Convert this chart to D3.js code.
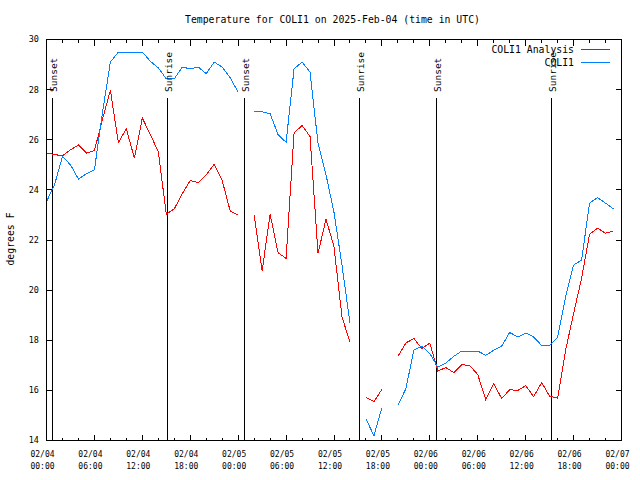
<!DOCTYPE html>
<html>
<head>
<meta charset="utf-8">
<script src="https://cdn.jsdelivr.net/npm/d3@7"></script>
<style>
  html, body { margin: 0; padding: 0; background: #fff; }
  svg { display: block; }
  text { font-family: "DejaVu Sans Mono", "Liberation Mono", monospace; fill: #000; }
</style>
</head>
<body>
<svg id="chart" width="640" height="480"></svg>
<script>
// ---- data (hours since 2025-02-04 00:00 UTC) ----
const hours = d3.range(0, 72);
const analysis = [
  25.47, 25.41, 25.36, 25.6, 25.79, 25.47, 25.57, 26.8, 27.97, 25.89, 26.43, 25.27,
  26.87, 26.2, 25.53, 23.03, 23.24, 23.85, 24.37, 24.29, 24.6, 25.03, 24.37, 23.16,
  22.99, null, 23.0, 20.76, 23.03, 21.49, 21.27, 26.27, 26.57, 26.13, 21.47, 22.83,
  21.73, 18.93, 17.93, null, 15.71, 15.55, 16.04, null, 17.36, 17.89, 18.07, 17.67,
  17.89, 16.77, 16.91, 16.71, 17.03, 16.99, 16.63, 15.63, 16.27, 15.67, 16.03, 15.99,
  16.19, 15.75, 16.31, 15.77, 15.69, 17.6, 19.07, 20.47, 22.23, 22.47, 22.27, 22.36
];
const observed = [
  23.53, 24.2, 25.33, 25.0, 24.43, 24.64, 24.8, 27.07, 29.1, 29.5, 29.5, 29.5,
  29.5, 29.13, 28.87, 28.43, 28.43, 28.9, 28.83, 28.9, 28.64, 29.1, 28.9, 28.47,
  27.9, null, 27.12, 27.12, 27.04, 26.2, 25.9, 28.83, 29.1, 28.7, 25.85, 24.6,
  23.1, 21.0, 18.69, null, 14.87, 14.19, 15.31, null, 15.4, 16.07, 17.6, 17.77,
  17.47, 16.93, 17.09, 17.36, 17.57, 17.57, 17.57, 17.4, 17.6, 17.77, 18.31, 18.13,
  18.29, 18.13, 17.79, 17.79, 18.11, 19.73, 21.0, 21.2, 23.47, 23.69, 23.47, 23.24
];
const seriesNames = ["COLI1 Analysis", "COLI1"];
const seriesColors = ["#ff0000", "#0080ff"];
const sunTimes = [0.75, 15.03, 24.79, 39.07, 48.71, 63.11];
const sunLabels = ["Sunset", "Sunrise", "Sunset", "Sunrise", "Sunset", "Sunrise"];
const xTickHours = [0, 6, 12, 18, 24, 30, 36, 42, 48, 54, 60, 66, 72];
const xTickDates = ["02/04","02/04","02/04","02/04","02/05","02/05","02/05","02/05","02/06","02/06","02/06","02/06","02/07"];
const xTickTimes = ["00:00","06:00","12:00","18:00","00:00","06:00","12:00","18:00","00:00","06:00","12:00","18:00","00:00"];
const yTicks = [14, 16, 18, 20, 22, 24, 26, 28, 30];
const titleText = "Temperature for COLI1 on 2025-Feb-04 (time in UTC)";
const yLabelText = "degrees F";

// ---- layout ----
const L = 46.5, R = 621.5, T = 39.5, B = 440.5;
const svg = d3.select("#chart");
const x = d3.scaleLinear().domain([0, 72]).range([L, R]);
const y = d3.scaleLinear().domain([14, 30]).range([B, T]);

const g = svg.append("g").attr("shape-rendering", "crispEdges");

// ticks (inward, all four sides)
const minor = d3.range(0, 73, 2);
minor.forEach(h => {
  const len = (h % 6 === 0) ? 6 : 3;
  g.append("line").attr("x1", x(h)).attr("x2", x(h)).attr("y1", B).attr("y2", B - len).attr("stroke", "#000");
  g.append("line").attr("x1", x(h)).attr("x2", x(h)).attr("y1", T).attr("y2", T + len).attr("stroke", "#000");
});
yTicks.forEach(v => {
  g.append("line").attr("x1", L).attr("x2", L + 6).attr("y1", y(v)).attr("y2", y(v)).attr("stroke", "#000");
  g.append("line").attr("x1", R).attr("x2", R - 6).attr("y1", y(v)).attr("y2", y(v)).attr("stroke", "#000");
});

// y tick labels
yTicks.forEach(v => {
  svg.append("text").attr("x", 39).attr("y", y(v)).attr("dy", "0.35em")
    .attr("text-anchor", "end").attr("font-size", "8.5px").text(v);
});
// x tick labels
xTickHours.forEach((h, i) => {
  svg.append("text").attr("x", x(h) - 4).attr("y", 457).attr("text-anchor", "middle")
    .attr("font-size", "8px").text(xTickDates[i]);
  svg.append("text").attr("x", x(h) - 4).attr("y", 469).attr("text-anchor", "middle")
    .attr("font-size", "8px").text(xTickTimes[i]);
});

// sun lines
sunTimes.forEach((t, i) => {
  const sx = Math.round(x(t)) + 0.5;
  g.append("line").attr("x1", sx).attr("x2", sx).attr("y1", 98).attr("y2", B)
    .attr("stroke", "#000").attr("stroke-width", 1.5);
  svg.append("text").attr("transform", `translate(${sx + 4.5},92) rotate(-90)`)
    .attr("text-anchor", "start").attr("font-size", "9.5px").text(sunLabels[i]);
});

// series lines
const line = d3.line()
  .defined(d => d[1] !== null)
  .x(d => x(d[0])).y(d => y(d[1]));
[analysis, observed].forEach((vals, si) => {
  const pts = hours.map((h, i) => [h, vals[i]]);
  g.append("path").attr("d", line(pts)).attr("fill", "none")
    .attr("stroke", seriesColors[si]).attr("stroke-width", 1);
});

// frame
g.append("rect").attr("x", L).attr("y", T).attr("width", R - L).attr("height", B - T)
  .attr("fill", "none").attr("stroke", "#000").attr("stroke-width", 1);

// legend
seriesNames.forEach((name, i) => {
  const ly = 49.5 + i * 13;
  svg.append("text").attr("x", 574).attr("y", ly).attr("dy", "0.35em")
    .attr("text-anchor", "end").attr("font-size", "9.8px").text(name);
  g.append("line").attr("x1", 581).attr("x2", 610).attr("y1", ly).attr("y2", ly)
    .attr("stroke", seriesColors[i]);
});

// title
svg.append("text").attr("x", 332.5).attr("y", 23).attr("text-anchor", "middle")
  .attr("font-size", "9.8px").text(titleText);
// y label
svg.append("text").attr("transform", "translate(14,239) rotate(-90)")
  .attr("text-anchor", "middle").attr("font-size", "9.8px").text(yLabelText);
</script>
</body>
</html>
